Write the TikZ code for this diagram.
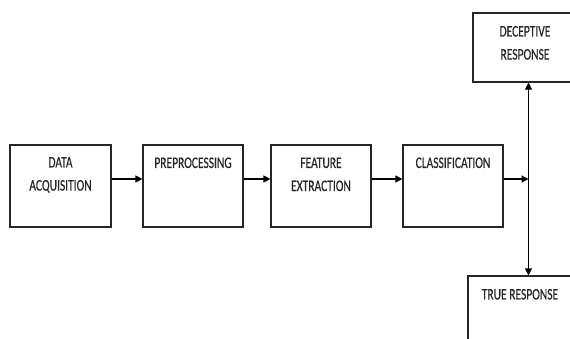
\documentclass[tikz,border=0pt]{standalone}
\usepackage{fontspec}
\usepackage{graphicx}
\setmainfont{Carlito}[FakeBold=0.6]
\usetikzlibrary{arrows.meta}

% tall, narrow caption text
\newcommand{\blocktext}[1]{\scalebox{1}[1.4]{\begin{tabular}[t]{@{}c@{}}#1\end{tabular}}}

\begin{document}
\begin{tikzpicture}[x=1pt,y=-1pt,
  block/.style={draw=black!85,line width=1.1pt,rectangle,inner sep=0pt,
                minimum width=100pt,minimum height=82pt},
  caption/.style={anchor=base,inner sep=0pt,text=black!85,
                  font=\fontsize{11.5}{16.5}\selectfont},
  arr/.style={draw=black,line width=1.1pt,-{Triangle[length=7pt,width=7pt]}}]
  \useasboundingbox (0,0) rectangle (570,338);
  \clip (0,0) rectangle (570,338);

  % processing chain
  \node[block,minimum width=101pt] (acq) at (60.5,186) {};
  \node[block] (pre) at (193,186) {};
  \node[block] (fea) at (321,186) {};
  \node[block] (cls) at (453,186) {};

  % outcomes
  \node[block,minimum width=104pt,minimum height=69pt] (dec) at (525,47.5) {};
  \node[block,minimum width=107pt,minimum height=74pt] (tru) at (521.5,313) {};

  % captions
  \node[caption] (tacq) at ([yshift=-23pt]acq.north) {\blocktext{DATA\\ACQUISITION}};
  \node[caption] (tpre) at ([yshift=-23.5pt]pre.north) {\blocktext{PREPROCESSING}};
  \node[caption] (tfea) at ([yshift=-23.5pt]fea.north) {\blocktext{FEATURE\\EXTRACTION}};
  \node[caption] (tcls) at ([yshift=-23.5pt]cls.north) {\blocktext{CLASSIFICATION}};
  \node[caption] (tdec) at ([yshift=-24pt]dec.north) {\blocktext{DECEPTIVE\\RESPONSE}};
  \node[caption] (ttru) at ([xshift=-1.5pt,yshift=-24pt]tru.north) {\blocktext{TRUE RESPONSE}};

  % connectors
  \coordinate (j) at (528.5,179);
  \draw[arr] ([yshift=7pt]acq.east) -- ([yshift=7pt]pre.west);
  \draw[arr] ([yshift=7pt]pre.east) -- ([yshift=7pt]fea.west);
  \draw[arr] ([yshift=7pt]fea.east) -- ([yshift=7pt]cls.west);
  \draw[arr] ([yshift=7pt]cls.east) -- (j);
  \draw[arr] (j) -- (j |- dec.south);
  \draw[arr] (j) -- (j |- tru.north);
\end{tikzpicture}
\end{document}
